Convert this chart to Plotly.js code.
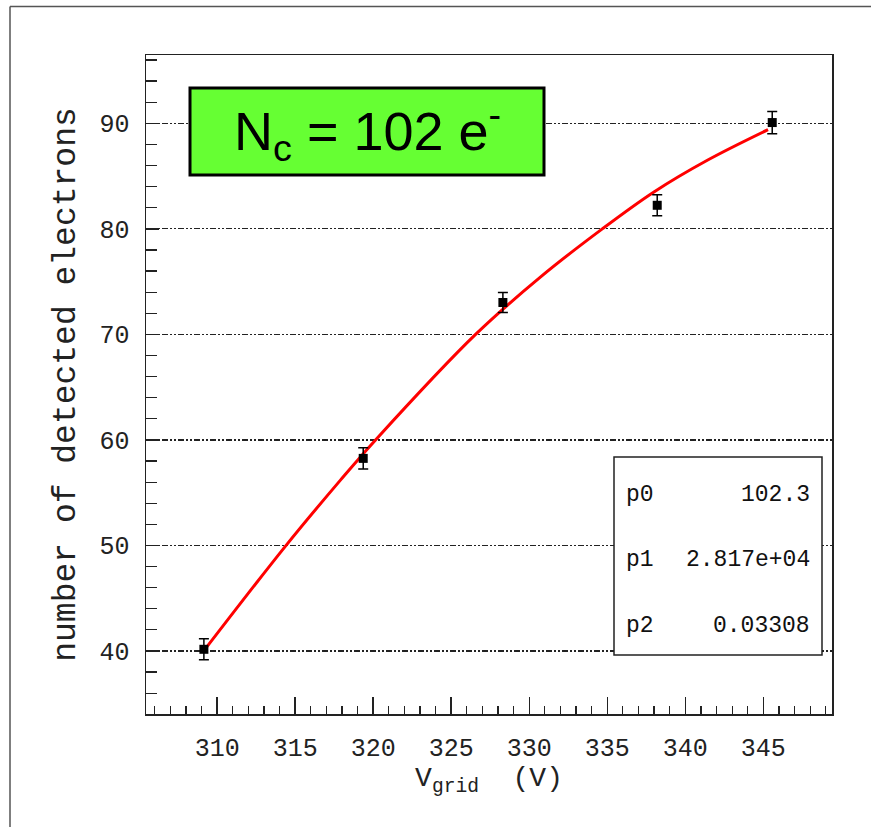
<!DOCTYPE html>
<html>
<head>
<meta charset="utf-8">
<script src="https://cdn.plot.ly/plotly-3.0.1.min.js"></script>
<style>html,body{margin:0;padding:0;background:#fff;}</style>
</head>
<body>
<div id="chart" style="width:871px;height:827px"></div>
<script>
// Measured points: detected electrons vs. grid voltage
const vGrid = [309.15, 319.36, 328.31, 338.2, 345.57];
const nDetected = [40.16, 58.25, 73.02, 82.23, 90.07];
const nError = [1.0, 1.0, 0.95, 1.0, 1.05];

// Fitted curve
const fitVGrid = [309.19, 314.38, 317.9, 320.15, 326.56, 330.73, 334.68, 337.99, 341.41, 345.3];
const fitN = [40.1, 49.94, 56.19, 60.0, 70.0, 75.45, 80.0, 83.5, 86.5, 89.4];

// Fit parameters shown in the stats box
const paramNames = ['p0', 'p1', 'p2'];
const paramValues = ['102.3', '2.817e+04', '0.03308'];

const headline = 'N<sub>c</sub> = 102 e<sup>-</sup>';

const W = 871, H = 827;
const M = {l: 146, r: 39, t: 55, b: 113};
const PW = W - M.l - M.r, PH = H - M.t - M.b;
const px = x => (x - M.l) / PW;
const py = y => (H - M.b - y) / PH;

const mono = 'Liberation Mono, Courier New, monospace';

const traces = [
  {
    x: fitVGrid, y: fitN, type: 'scatter', mode: 'lines',
    line: {color: '#ff0000', width: 3, shape: 'spline', smoothing: 1},
    hoverinfo: 'skip', showlegend: false
  },
  {
    x: vGrid, y: nDetected, type: 'scatter', mode: 'markers',
    marker: {symbol: 'square', size: 9, color: '#000'},
    error_y: {type: 'data', array: nError, visible: true, color: '#000', thickness: 1.5, width: 5},
    showlegend: false
  }
];

const shapes = [
  // outer frame edges
  {type: 'line', xref: 'paper', yref: 'paper', x0: px(10), x1: px(871), y0: py(6.5), y1: py(6.5),
   line: {color: '#555', width: 1.5}},
  {type: 'line', xref: 'paper', yref: 'paper', x0: px(10), x1: px(10), y0: py(6.5), y1: py(827),
   line: {color: '#555', width: 1.5}},
  // headline box
  {type: 'rect', xref: 'paper', yref: 'paper', layer: 'above',
   x0: px(190), x1: px(544), y0: py(175), y1: py(88),
   fillcolor: '#66ff33', line: {color: '#000', width: 3}},
  // stats box
  {type: 'rect', xref: 'paper', yref: 'paper', layer: 'above',
   x0: px(614), x1: px(822), y0: py(655), y1: py(457),
   fillcolor: '#fff', line: {color: '#222', width: 1.5}}
];

const rowY = [495, 560, 626];
const annotations = [
  {xref: 'paper', yref: 'paper', x: px(367), y: py(131), xanchor: 'center', yanchor: 'middle',
   text: headline, showarrow: false,
   font: {family: 'Liberation Sans, Arial, sans-serif', size: 54, color: '#000'}}
];
paramNames.forEach((name, i) => {
  annotations.push({xref: 'paper', yref: 'paper', x: px(624), y: py(rowY[i]),
    xanchor: 'left', yanchor: 'middle', text: name, showarrow: false,
    font: {family: mono, size: 23, color: '#111'}});
  annotations.push({xref: 'paper', yref: 'paper', x: px(812), y: py(rowY[i]),
    xanchor: 'right', yanchor: 'middle', text: paramValues[i], showarrow: false,
    font: {family: mono, size: 23, color: '#111'}});
});

const layout = {
  width: W, height: H, autosize: false,
  margin: M,
  paper_bgcolor: '#fff', plot_bgcolor: '#fff',
  showlegend: false,
  xaxis: {
    range: [305.44, 349.4], tick0: 310, dtick: 5,
    showline: true, linecolor: '#222', linewidth: 1.5, mirror: true,
    ticks: 'inside', ticklen: 17, tickwidth: 1.5, tickcolor: '#222',
    minor: {dtick: 1, ticks: 'inside', ticklen: 8, tickwidth: 1.2, tickcolor: '#222'},
    showgrid: false, zeroline: false,
    tickfont: {family: mono, size: 25, color: '#222'},
    ticklabelstandoff: 10,
    title: {text: 'V<sub>grid</sub>  (V)', font: {family: mono, size: 28, color: '#222'}, standoff: 0}
  },
  yaxis: {
    range: [34.03, 96.47], tick0: 40, dtick: 10,
    showline: true, linecolor: '#222', linewidth: 1.5, mirror: true,
    ticks: 'inside', ticklen: 13, tickwidth: 1.5, tickcolor: '#222',
    minor: {dtick: 2, ticks: 'inside', ticklen: 11, tickwidth: 1.2, tickcolor: '#222', showgrid: false},
    showgrid: true, gridcolor: '#222', gridwidth: 1.2, griddash: '6px,2px,2px,2px,2px,2px',
    zeroline: false,
    tickfont: {family: mono, size: 25, color: '#222'},
    ticklabelstandoff: 10,
    title: {text: 'number of detected electrons', font: {family: mono, size: 33, color: '#222'}, standoff: 14}
  },
  shapes: shapes,
  annotations: annotations
};

Plotly.newPlot('chart', traces, layout, {displayModeBar: false, staticPlot: true});
</script>
</body>
</html>
